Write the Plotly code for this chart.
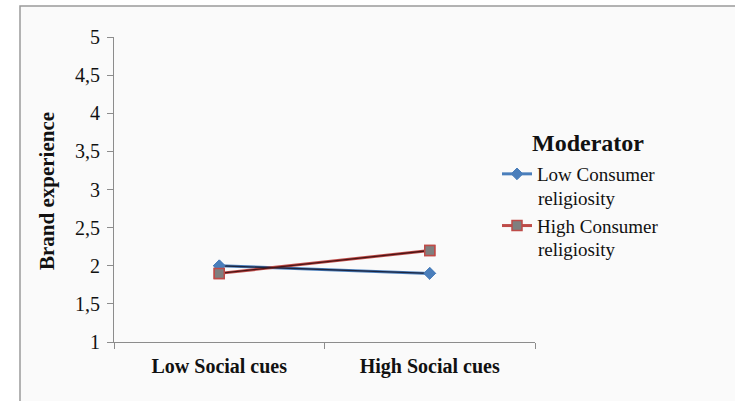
import plotly.graph_objects as go

# Interaction plot data
categories = ["Low Social cues", "High Social cues"]
series_first_lines = ["Low Consumer", "High Consumer"]
series_second_line = "religiosity"
low_religiosity = [2.0, 1.9]
high_religiosity = [1.9, 2.2]
y_ticks = [1, 1.5, 2, 2.5, 3, 3.5, 4, 4.5, 5]
y_tick_labels = ["1", "1,5", "2", "2,5", "3", "3,5", "4", "4,5", "5"]

SERIF = "Liberation Serif, Times New Roman, serif"
INK = "#111111"

styles = [
    dict(values=low_religiosity, name=series_first_lines[0], color="#4a7ebb", core="#1c2540",
         marker=dict(symbol="diamond", size=9, color="#4a7ebb",
                     line=dict(color="#4a7ebb", width=1))),
    dict(values=high_religiosity, name=series_first_lines[1], color="#be4b48", core="#4a1414",
         marker=dict(symbol="square", size=10, color="#7f7f7f",
                     line=dict(color="#be4b48", width=1.5))),
]

fig = go.Figure()
for i, s in enumerate(styles):
    # colored outer stroke (legend entry)
    fig.add_trace(go.Scatter(x=categories, y=s["values"], name=s["name"],
                             legendgroup=f"g{i}",
                             mode="lines+markers",
                             line=dict(color=s["color"], width=3),
                             marker=s["marker"]))
for s in styles:
    # dark inner stroke
    fig.add_trace(go.Scatter(x=categories, y=s["values"], mode="lines",
                             line=dict(color=s["core"], width=1.3),
                             showlegend=False, hoverinfo="skip"))
for s in styles:
    # markers on top of strokes
    fig.add_trace(go.Scatter(x=categories, y=s["values"], mode="markers",
                             marker=s["marker"], showlegend=False, hoverinfo="skip"))

# plot-area pixel frame, used to place layout items in paper coordinates
L, R, T, B = 114, 535, 37, 342


def px_x(x):
    return (x - L) / (R - L)


def px_y(y):
    return (B - y) / (B - T)


LEG_FONT = 19

fig.update_layout(
    width=735, height=401,
    margin=dict(l=L, r=735 - R, t=T, b=401 - B),
    paper_bgcolor="white",
    plot_bgcolor="rgba(0,0,0,0)",
    font=dict(family=SERIF, size=20, color=INK),
    showlegend=True,
    legend=dict(x=px_x(497), xanchor="left",
                y=px_y(155), yanchor="top",
                bgcolor="rgba(0,0,0,0)", borderwidth=0,
                font=dict(family=SERIF, size=LEG_FONT, color=INK),
                tracegroupgap=24),
    shapes=[dict(type="rect", xref="paper", yref="paper",
                 x0=px_x(20), x1=px_x(740), y0=px_y(410), y1=px_y(6),
                 fillcolor="#fafafa", line=dict(color="#9a9a9a", width=1.5),
                 layer="below")],
    annotations=[
        dict(text="<b>Brand experience</b>", textangle=-90, xref="paper", yref="paper",
             x=px_x(47), y=px_y(191), xanchor="center", yanchor="middle",
             showarrow=False, font=dict(family=SERIF, size=21, color=INK)),
        dict(text="<b>Moderator</b>", xref="paper", yref="paper",
             x=px_x(530), y=px_y(143), xanchor="left", yanchor="middle",
             showarrow=False, font=dict(family=SERIF, size=24, color=INK)),
    ] + [
        dict(text=series_second_line, xref="paper", yref="paper",
             x=px_x(536), y=px_y(yy), xanchor="left", yanchor="middle",
             showarrow=False, font=dict(family=SERIF, size=LEG_FONT, color=INK))
        for yy in (198, 249)
    ],
)

fig.update_xaxes(
    type="category", range=[-0.5, 1.5],
    showline=True, linecolor="#8c8c8c", linewidth=1,
    ticks="outside", tickson="boundaries", ticklen=6, tickcolor="#8c8c8c",
    ticklabelstandoff=6,
    showgrid=False, zeroline=False,
    tickfont=dict(family=SERIF, size=20, color=INK, weight="bold"),
)
fig.update_yaxes(
    range=[1, 5], tickvals=y_ticks, ticktext=y_tick_labels,
    showline=True, linecolor="#8c8c8c", linewidth=1,
    ticks="outside", ticklen=6, tickcolor="#8c8c8c", ticklabelstandoff=3,
    showgrid=False, zeroline=False,
    tickfont=dict(family=SERIF, size=20, color=INK),
)

fig.write_html("out.html")
